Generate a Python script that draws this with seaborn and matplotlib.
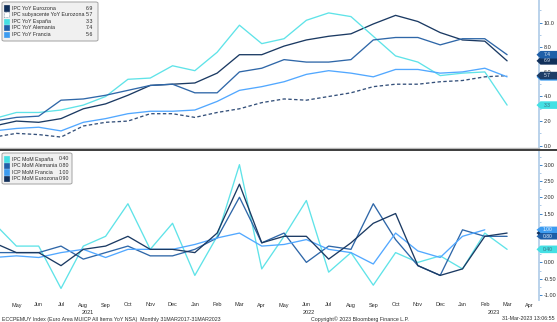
import numpy as np
import pandas as pd
import matplotlib
matplotlib.use("Agg")
import matplotlib.pyplot as plt
import seaborn as sns
from matplotlib import transforms
from matplotlib.patches import FancyBboxPatch, Rectangle, Polygon
from matplotlib.lines import Line2D

# ---------------------------------------------------------------------------
# Datos mensuales abr-2021 .. mar-2023
# ---------------------------------------------------------------------------
meses = ["Apr", "May", "Jun", "Jul", "Aug", "Sep", "Oct", "Nov", "Dec",
         "Jan", "Feb", "Mar", "Apr", "May", "Jun", "Jul", "Aug", "Sep",
         "Oct", "Nov", "Dec", "Jan", "Feb", "Mar"]
etiquetas_eje = ["May", "Jun", "Jul", "Aug", "Sep", "Oct", "Nov", "Dec",
                 "Jan", "Feb", "Mar", "Apr", "May", "Jun", "Jul", "Aug",
                 "Sep", "Oct", "Nov", "Dec", "Jan", "Feb", "Mar", "Apr"]
anios = ["2021", "2022", "2023"]
anios_pos = [4.2, 14.1, 22.4]

# Variación interanual (%)
eurozona_yoy = [1.6, 2.0, 1.9, 2.2, 3.0, 3.4, 4.1, 4.9, 5.0, 5.1, 5.9, 7.4,
                7.4, 8.1, 8.6, 8.9, 9.1, 9.9, 10.6, 10.1, 9.2, 8.6, 8.5, 6.9]
subyacente_yoy = [0.7, 1.0, 0.9, 0.7, 1.6, 1.9, 2.0, 2.6, 2.6, 2.3, 2.7, 3.0,
                  3.5, 3.8, 3.7, 4.0, 4.3, 4.8, 5.0, 5.0, 5.2, 5.3, 5.6, 5.7]
espana_yoy = [2.2, 2.7, 2.7, 2.9, 3.3, 4.0, 5.4, 5.5, 6.5, 6.1, 7.6, 9.8,
              8.3, 8.7, 10.2, 10.8, 10.5, 8.9, 7.3, 6.8, 5.7, 5.9, 6.0, 3.3]
alemania_yoy = [2.0, 2.3, 2.4, 3.7, 3.8, 4.1, 4.5, 4.9, 5.0, 4.3, 4.3, 6.0,
                6.3, 7.0, 6.8, 6.8, 7.0, 8.6, 8.8, 8.8, 8.2, 8.7, 8.7, 7.4]
francia_yoy = [1.2, 1.4, 1.5, 1.2, 1.9, 2.2, 2.6, 2.8, 2.8, 2.9, 3.6, 4.5,
               4.8, 5.2, 5.8, 6.1, 5.9, 5.6, 6.2, 6.2, 5.9, 6.0, 6.3, 5.6]

# Variación mensual (%)
espana_mom = [1.2, 0.5, 0.5, -0.8, 0.5, 0.8, 1.8, 0.4, 1.2, -0.4, 0.8, 3.0,
              -0.2, 0.8, 1.9, -0.3, 0.3, -0.7, 0.3, 0.0, 0.2, -0.2, 0.9, 0.4]
alemania_mom = [0.3, 0.3, 0.3, 0.5, 0.1, 0.3, 0.5, 0.2, 0.2, 0.4, 0.75, 2.0,
                0.6, 0.9, 0.0, 0.5, 0.4, 1.8, 0.7, -0.1, -0.4, 1.0, 0.8, 0.8]
francia_mom = [0.15, 0.2, 0.15, 0.3, 0.4, 0.15, 0.4, 0.4, 0.4, 0.55, 0.75, 0.9,
               0.5, 0.55, 0.7, 0.4, 0.3, -0.05, 0.9, 0.35, 0.15, 0.8, 1.0, np.nan]
eurozona_mom = [0.6, 0.3, 0.3, -0.1, 0.4, 0.5, 0.8, 0.4, 0.4, 0.3, 0.9, 2.4,
                0.6, 0.8, 0.8, 0.1, 0.6, 1.2, 1.5, -0.1, -0.4, -0.2, 0.8, 0.9]

# ---------------------------------------------------------------------------
# Estilo
# ---------------------------------------------------------------------------
sns.set_style("white")
plt.rcParams["font.family"] = ["Liberation Sans", "DejaVu Sans"]
FS = 4.0
FS_LEY = 3.8
FS_TAG = 3.6
TXT = "#2b2b2b"

C_EUR = "#1b3a63"
C_SUB = "#34507a"
C_ESP = "#5fe3e8"
C_ALE = "#2f67a8"
C_FRA = "#52a8ff"
SQ_EUR = "#12305a"
SQ_ALE = "#1f5fa8"
SQ_FRA = "#3d9cf0"
SQ_ESP = "#45e0e4"

W, H = 557, 322
fig = plt.figure(figsize=(W / 100, H / 100), dpi=100)
fig.patch.set_facecolor("white")


def fx(px):
    return px / W


def fy(py):
    return 1 - py / H


ax1 = fig.add_axes([0, fy(148), fx(539), fy(0) - fy(148)])
ax2 = fig.add_axes([0, fy(300), fx(539), fy(150) - fy(300)])

x = np.arange(len(meses))

# ---------------------------------------------------------------------------
# Panel superior: interanual
# ---------------------------------------------------------------------------
nombres_top = ["IPC YoY Eurozona", "IPC subyacente YoY Eurozona",
               "IPC YoY España", "IPC YoY Alemania", "IPC YoY Francia"]
series_top = [eurozona_yoy, subyacente_yoy, espana_yoy, alemania_yoy, francia_yoy]
colores_top = [C_EUR, C_SUB, C_ESP, C_ALE, C_FRA]
df_top = pd.DataFrame({
    "x": np.tile(x, len(series_top)),
    "valor": np.concatenate(series_top),
    "serie": np.repeat(nombres_top, len(x)),
})
sns.lineplot(data=df_top, x="x", y="valor", hue="serie", style="serie",
             hue_order=nombres_top, style_order=nombres_top,
             palette=dict(zip(nombres_top, colores_top)),
             dashes={n: ((2.6, 1.8) if "subyacente" in n else "") for n in nombres_top},
             linewidth=0.95, legend=False, ax=ax1)

# ---------------------------------------------------------------------------
# Panel inferior: intermensual
# ---------------------------------------------------------------------------
nombres_bot = ["IPC MoM España", "IPC MoM Alemania", "ICP MoM Francia", "IPC MoM Eurozona"]
series_bot = [espana_mom, alemania_mom, francia_mom, eurozona_mom]
colores_bot = [C_ESP, C_ALE, C_FRA, C_EUR]
df_bot = pd.DataFrame({
    "x": np.tile(x, len(series_bot)),
    "valor": np.concatenate(series_bot),
    "serie": np.repeat(nombres_bot, len(x)),
}).dropna()
sns.lineplot(data=df_bot, x="x", y="valor", hue="serie",
             hue_order=nombres_bot, palette=dict(zip(nombres_bot, colores_bot)),
             linewidth=0.95, legend=False, ax=ax2)

# ---------------------------------------------------------------------------
# Ejes
# ---------------------------------------------------------------------------
XLIM = (0.265, 24.43)
ax1.set_xlim(*XLIM)
ax2.set_xlim(*XLIM)
ax1.set_ylim(-0.19, 11.85)
ax2.set_ylim(-1.155, 3.45)

for ax in (ax1, ax2):
    ax.set_xlabel("")
    ax.set_ylabel("")
    ax.set_facecolor("white")
    ax.yaxis.tick_right()
    for s in ("left", "top", "bottom"):
        ax.spines[s].set_visible(False)
    ax.spines["right"].set_color("#b4cfe9")
    ax.spines["right"].set_linewidth(1.3)
    ax.tick_params(axis="y", which="major", direction="out", length=2.2, width=0.7,
                   color="#3f86cc", labelsize=FS, labelcolor=TXT, pad=1.2)
    ax.tick_params(axis="y", which="minor", direction="out", length=1.2, width=0.5,
                   color="#8ab4dd")

ax1.spines["bottom"].set_visible(True)
ax1.spines["bottom"].set_color("#b9b9b9")
ax1.spines["bottom"].set_linewidth(1.0)
ax1.set_xticks([])

ax1.set_yticks(np.arange(0, 10.1, 2.0))
ax1.set_yticklabels([f"{v:.1f}" for v in np.arange(0, 10.1, 2.0)])
ax1.set_yticks(np.arange(1, 11.1, 2.0), minor=True)

# los rótulos 0.50 y 1.00 quedan bajo las etiquetas de valor
ticks_bot = np.arange(-1.0, 3.01, 0.5)
ax2.set_yticks(ticks_bot)
ax2.set_yticklabels(["" if round(v, 2) in (0.5, 1.0) else f"{v:.2f}" for v in ticks_bot])
ax2.set_yticks(np.arange(-0.75, 3.3, 0.5), minor=True)

ax2.set_xticks(np.arange(1, 25))
ax2.set_xticklabels(etiquetas_eje)
ax2.tick_params(axis="x", length=0, labelsize=FS, labelcolor=TXT, pad=1.8)

# años bajo los meses
tr_year = transforms.blended_transform_factory(ax2.transData, fig.transFigure)
for a, p in zip(anios, anios_pos):
    ax2.text(p, fy(312), a, transform=tr_year, ha="center", va="center",
             fontsize=FS, color=TXT)

# separador entre paneles
fig.add_artist(Line2D([0, 1], [fy(149.6), fy(149.6)], color="#3c3c3c", lw=1.4))

# ---------------------------------------------------------------------------
# Etiquetas de último valor en el eje derecho
# ---------------------------------------------------------------------------
def etiqueta(ax, valor, texto, fondo, color_txt, alto_px=7.6):
    tr = transforms.blended_transform_factory(fig.transFigure, ax.transData)
    bbox = ax.get_position()
    ylo, yhi = ax.get_ylim()
    upp = (yhi - ylo) / (bbox.height * H)
    h = alto_px / 2 * upp
    x0, x1, x2 = fx(536.5), fx(540.5), fx(557)
    poly = Polygon([(x0, valor), (x1, valor + h), (x2, valor + h),
                    (x2, valor - h), (x1, valor - h)], closed=True,
                   transform=tr, facecolor=fondo, edgecolor="none",
                   clip_on=False, zorder=5)
    ax.add_patch(poly)
    if texto:
        ax.text(fx(547.5), valor, texto, transform=tr, ha="center", va="center",
                fontsize=FS_TAG, color=color_txt, zorder=6, clip_on=False)


# las etiquetas tapadas por otras sólo se dibujan como forma
etiqueta(ax1, espana_yoy[-1], f"{espana_yoy[-1]:.1f}", SQ_ESP, "#3d6f80")
etiqueta(ax1, francia_yoy[-1], None, SQ_FRA, "#e8f2ff")
etiqueta(ax1, subyacente_yoy[-1], f"{subyacente_yoy[-1]:.1f}", "#1d3c66", "#d5e2f2")
etiqueta(ax1, eurozona_yoy[-1], f"{eurozona_yoy[-1]:.1f}", SQ_EUR, "#d5e2f2")
etiqueta(ax1, alemania_yoy[-1], f"{alemania_yoy[-1]:.1f}", SQ_ALE, "#e0ecfa")

ult_fra = [v for v in francia_mom if not np.isnan(v)][-1]
etiqueta(ax2, eurozona_mom[-1], None, SQ_EUR, "#d5e2f2")
etiqueta(ax2, espana_mom[-1], f"{espana_mom[-1]:.2f}", SQ_ESP, "#3d6f80")
etiqueta(ax2, alemania_mom[-1], f"{alemania_mom[-1]:.2f}", SQ_ALE, "#e0ecfa", alto_px=6.4)
etiqueta(ax2, ult_fra, f"{ult_fra:.2f}", SQ_FRA, "#e8f2ff", alto_px=6.4)

# ---------------------------------------------------------------------------
# Leyendas con valor actual
# ---------------------------------------------------------------------------
def leyenda(x0, y0, x1, y1, filas, y_primera, paso, x_valor):
    caja = FancyBboxPatch((fx(x0), fy(y1)), fx(x1) - fx(x0), fy(y0) - fy(y1),
                          boxstyle="round,pad=0,rounding_size=0.004",
                          transform=fig.transFigure, facecolor="#f0f0f0",
                          edgecolor="#a2a2a2", linewidth=0.7, zorder=10)
    fig.add_artist(caja)
    for i, (texto, valor, color, punteado) in enumerate(filas):
        yc = y_primera + i * paso
        cuadro = Rectangle((fx(4), fy(yc + 2.6)), fx(5.2), fy(yc - 2.6) - fy(yc + 2.6),
                           transform=fig.transFigure, zorder=11,
                           facecolor="white" if punteado else color,
                           edgecolor="#7b8ea6" if punteado else color,
                           linewidth=0.5, linestyle=(0, (1, 1)) if punteado else "-")
        fig.add_artist(cuadro)
        fig.text(fx(11.5), fy(yc), texto, ha="left", va="center", fontsize=FS_LEY,
                 color=TXT, zorder=12)
        fig.text(fx(x_valor), fy(yc), valor, ha="right", va="center", fontsize=FS_LEY,
                 color=TXT, zorder=12)


leyenda(2, 2, 98, 41, [
    (nombres_top[0], f"{eurozona_yoy[-1]:.1f}", SQ_EUR, False),
    (nombres_top[1], f"{subyacente_yoy[-1]:.1f}", "white", True),
    (nombres_top[2], f"{espana_yoy[-1]:.1f}", SQ_ESP, False),
    (nombres_top[3], f"{alemania_yoy[-1]:.1f}", SQ_ALE, False),
    (nombres_top[4], f"{francia_yoy[-1]:.1f}", SQ_FRA, False),
], 8.0, 6.6, 93.5)

leyenda(2, 153, 72, 184, [
    (nombres_bot[0], f"{espana_mom[-1]:.2f}", SQ_ESP, False),
    (nombres_bot[1], f"{alemania_mom[-1]:.2f}", SQ_ALE, False),
    (nombres_bot[2], f"{ult_fra:.2f}", SQ_FRA, False),
    (nombres_bot[3], f"{eurozona_mom[-1]:.2f}", SQ_EUR, False),
], 159.0, 6.5, 69.5)

# ---------------------------------------------------------------------------
# Pie
# ---------------------------------------------------------------------------
PIE = 3.8
fig.text(fx(2), fy(319), "ECCPEMUY Index (Euro Area MUICP All Items YoY NSA)  Monthly 31MAR2017-31MAR2023",
         ha="left", va="center", fontsize=PIE, color=TXT)
fig.text(fx(311), fy(319), "Copyright\u00a9 2023 Bloomberg Finance L.P.",
         ha="left", va="center", fontsize=PIE, color=TXT)
fig.text(fx(555), fy(319), "31-Mar-2023 13:06:55",
         ha="right", va="center", fontsize=PIE, color=TXT)

fig.savefig("out.png", dpi=100, facecolor="white")
